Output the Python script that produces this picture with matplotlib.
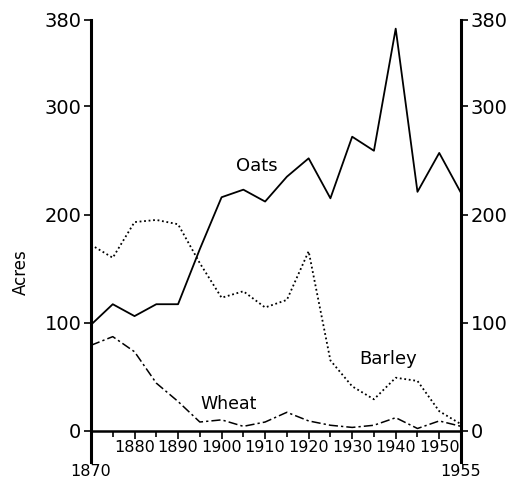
import matplotlib.pyplot as plt
from matplotlib.ticker import FixedLocator

# data, every 5 years
years = [1870, 1875, 1880, 1885, 1890, 1895, 1900, 1905, 1910,
         1915, 1920, 1925, 1930, 1935, 1940, 1945, 1950, 1955]
oats = [98, 117, 106, 117, 117, 168, 216, 223, 212,
        235, 252, 215, 272, 259, 372, 221, 257, 220]
barley = [172, 160, 193, 195, 191, 155, 123, 129, 114,
          121, 166, 65, 41, 29, 49, 46, 18, 6]
wheat = [79, 87, 73, 44, 27, 8, 10, 4, 8,
         17, 9, 5, 3, 5, 12, 2, 9, 4]

yticks = [0, 100, 200, 300, 380]
xticks = [1870, 1880, 1890, 1900, 1910, 1920, 1930, 1940, 1950, 1955]
minor_x = [1875, 1885, 1895, 1905, 1915, 1925, 1935, 1945]

plt.rcParams['font.family'] = ['DejaVu Sans']

fig = plt.figure(figsize=(5.14, 4.86), dpi=100)
ax = fig.add_axes([91 / 514, 24 / 486, 370 / 514, 442 / 486])

ax.plot(years, oats, color='black', lw=1.3, linestyle='-')
ax.plot(years, barley, color='black', lw=1.3, linestyle=(0, (1, 1.5)))
ax.plot(years, wheat, color='black', lw=1.1, linestyle=(0, (6, 2, 1.5, 2)))

ax.set_xlim(1870, 1955)
ax.set_ylim(-29, 380)

# axes frame: thick left/right spines, x axis line at zero
ax.spines['top'].set_visible(False)
ax.spines['bottom'].set_position(('data', 0))
ax.spines['bottom'].set_linewidth(1.8)
ax.spines['left'].set_linewidth(2.2)
ax.spines['right'].set_linewidth(2.2)

ax.set_yticks(yticks)
ax.tick_params(axis='y', which='major', left=True, right=True,
               labelleft=True, labelright=True, direction='out',
               length=5, width=1.2, labelsize=14, pad=2)

ax.xaxis.set_major_locator(FixedLocator(xticks))
ax.xaxis.set_minor_locator(FixedLocator(minor_x))
ax.tick_params(axis='x', which='major', direction='out', length=6,
               width=1.2, labelsize=11.5, pad=1)
ax.tick_params(axis='x', which='minor', direction='out', length=4, width=1.2)
for t, yr in zip(ax.xaxis.get_major_ticks(), xticks):
    if yr in (1870, 1955):
        t.set_pad(18)

ax.set_ylabel('Acres', fontsize=12)
ax.yaxis.set_label_coords(-0.165, 0.43)

ax.text(1908, 245, 'Oats', fontsize=13, ha='center', va='center')
ax.text(1938.3, 66, 'Barley', fontsize=13, ha='center', va='center')
ax.text(1901.5, 25, 'Wheat', fontsize=12.5, ha='center', va='center')

fig.savefig('out.png', dpi=100)
